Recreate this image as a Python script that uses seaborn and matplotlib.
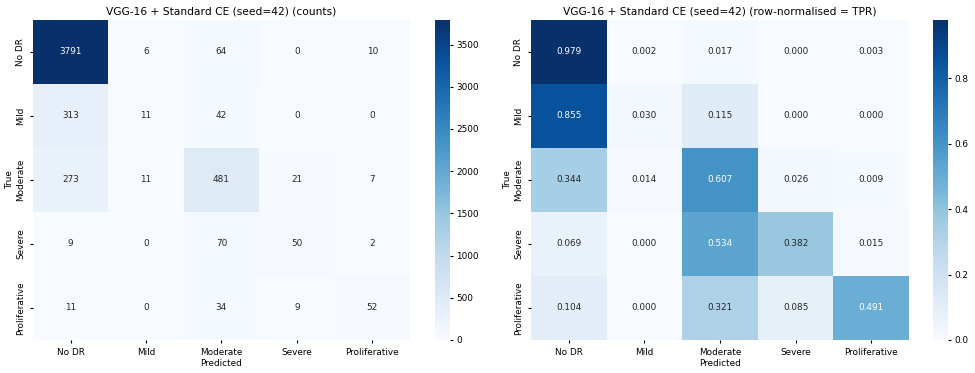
import numpy as np
import matplotlib
matplotlib.use("Agg")
import matplotlib.pyplot as plt
import seaborn as sns

classes = ["No DR", "Mild", "Moderate", "Severe", "Proliferative"]

counts = np.array([
    [3791, 6, 64, 0, 10],
    [313, 11, 42, 0, 0],
    [273, 11, 481, 21, 7],
    [9, 0, 70, 50, 2],
    [11, 0, 34, 9, 52],
])

tpr = np.array([
    [0.979, 0.002, 0.017, 0.000, 0.003],
    [0.855, 0.030, 0.115, 0.000, 0.000],
    [0.344, 0.014, 0.607, 0.026, 0.009],
    [0.069, 0.000, 0.534, 0.382, 0.015],
    [0.104, 0.000, 0.321, 0.085, 0.491],
])

fs = 6.4
plt.rcParams["font.size"] = fs

fig = plt.figure(figsize=(9.75, 3.73), dpi=100)
ax1 = fig.add_axes([0.0338, 0.0885, 0.3867, 0.858])
cax1 = fig.add_axes([0.446, 0.0885, 0.0154, 0.858])
ax2 = fig.add_axes([0.5446, 0.0885, 0.3877, 0.858])
cax2 = fig.add_axes([0.957, 0.0885, 0.0154, 0.858])

sns.heatmap(counts, annot=True, fmt="d", cmap="Blues", ax=ax1, cbar_ax=cax1,
            xticklabels=classes, yticklabels=classes, annot_kws={"size": fs})
ax1.set_title("VGG-16 + Standard CE (seed=42) (counts)", fontsize=7.7, pad=4)

sns.heatmap(tpr, annot=True, fmt=".3f", cmap="Blues", ax=ax2, cbar_ax=cax2,
            xticklabels=classes, yticklabels=classes, annot_kws={"size": fs})
ax2.set_title("VGG-16 + Standard CE (seed=42) (row-normalised = TPR)", fontsize=7.7, pad=4)

for ax in (ax1, ax2):
    ax.set_xlabel("Predicted", fontsize=fs, labelpad=1.5)
    ax.set_ylabel("True", fontsize=fs, labelpad=1.5)
    ax.tick_params(labelsize=fs, length=2.5, pad=3)
    plt.setp(ax.get_yticklabels(), rotation=90, va="center")
for cax in (cax1, cax2):
    cax.tick_params(labelsize=fs, length=2.5, pad=2)

fig.savefig("out.png", dpi=100)
